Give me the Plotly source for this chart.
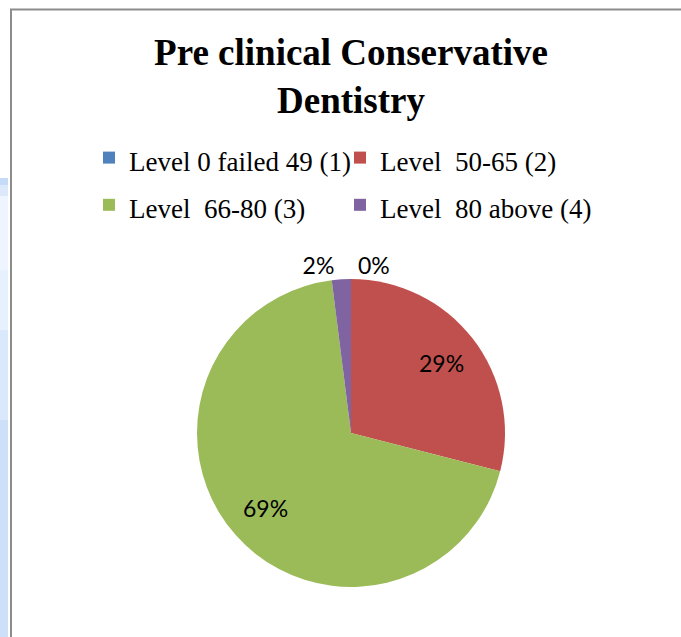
import math
import plotly.graph_objects as go

labels = ["Level 0 failed 49 (1)", "Level  50-65 (2)", "Level  66-80 (3)", "Level  80 above (4)"]
values = [0, 29, 69, 2]
colors = ["#4F81BD", "#C0504D", "#9BBB59", "#8064A2"]
title_text = "Pre clinical Conservative<br>Dentistry"

W, H = 681, 637
cx, cy, r = 351, 433, 154

total = sum(values)
pcts = [v / total for v in values]
# slices that get their label drawn outside by the pie itself
outside = [p < 0.05 for p in pcts]

fig = go.Figure(go.Pie(
    labels=[f"<span style='font-size:27px'>{l}</span>" for l in labels],
    values=values,
    sort=False,
    direction="clockwise",
    rotation=0,
    marker=dict(colors=colors, line=dict(width=0)),
    texttemplate=["%{percent:.0%}" if o else "" for o in outside],
    textposition=["outside" if o else "inside" for o in outside],
    textfont=dict(family="Lato", size=23, color="#000000"),
    domain=dict(x=[(cx - r) / W, (cx + r) / W], y=[1 - (cy + r) / H, 1 - (cy - r) / H]),
    showlegend=True,
))

# inside labels placed along each slice's mid-angle, like the spreadsheet's
annotations = []
cum = 0.0
for p, o in zip(pcts, outside):
    mid = (cum + p / 2) * 2 * math.pi
    cum += p
    if o:
        continue
    lx = cx + 0.74 * r * math.sin(mid)
    ly = cy - 0.74 * r * math.cos(mid)
    annotations.append(dict(text=f"{p:.0%}", x=lx / W, y=1 - ly / H, xref="paper", yref="paper",
                            showarrow=False, xanchor="center", yanchor="middle",
                            font=dict(family="Lato", size=23, color="#000000")))

strip = [(178, 185, "#c6dbf7"), (185, 196, "#dce9fb"), (196, 270, "#eef5fe"),
         (270, 330, "#e7f0fd"), (330, 420, "#dae8fb"), (420, 637, "#cddff9")]
shapes = [dict(type="rect", xref="paper", yref="paper", x0=0, x1=8 / W, y0=1 - b / H, y1=1 - t / H,
               fillcolor=c, line=dict(width=0), layer="below") for t, b, c in strip]
shapes += [
    dict(type="line", xref="paper", yref="paper", x0=11 / W, x1=11 / W, y0=0, y1=1 - 9 / H,
         line=dict(color="#8c8c8c", width=2)),
    dict(type="line", xref="paper", yref="paper", x0=10 / W, x1=1, y0=1 - 9.5 / H, y1=1 - 9.5 / H,
         line=dict(color="#8c8c8c", width=2)),
]

fig.update_layout(
    width=W, height=H,
    margin=dict(l=0, r=0, t=0, b=0, autoexpand=False),
    paper_bgcolor="white",
    title=dict(text=title_text, x=351 / W, xanchor="center", y=1 - 65 / H, yanchor="top",
               font=dict(family="Liberation Serif", size=37, color="#000000", weight="bold")),
    legend=dict(orientation="h", x=89 / W, xanchor="left", y=1 - 129 / H, yanchor="top",
                entrywidth=206, entrywidthmode="pixels",
                font=dict(family="Liberation Serif", size=34, color="#000000"),
                traceorder="normal"),
    annotations=annotations,
    shapes=shapes,
)

fig.write_html("out.html", config={"displayModeBar": False},
               post_script="document.body.style.margin='0';")
